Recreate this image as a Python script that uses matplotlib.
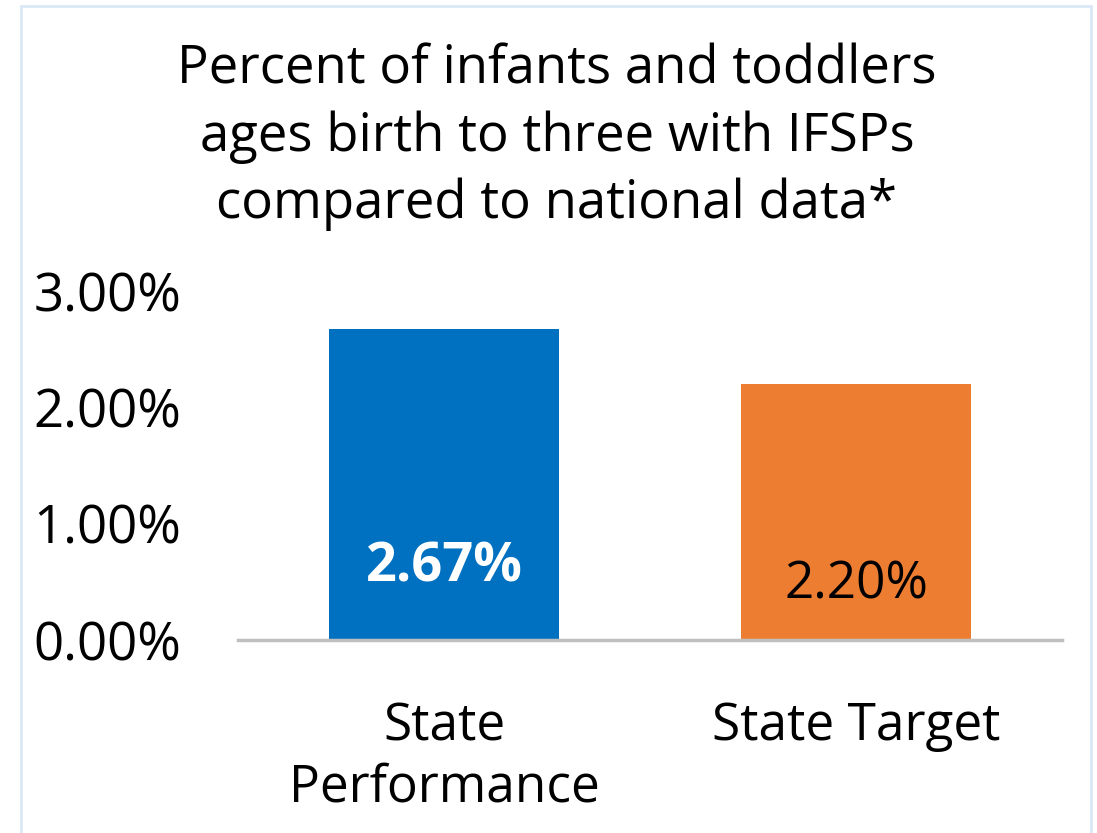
import matplotlib
matplotlib.use("Agg")
import matplotlib.pyplot as plt
from matplotlib.patches import Rectangle

categories = ["State\nPerformance", "State Target"]
values = [2.67, 2.20]
value_labels = ["2.67%", "2.20%"]
colors = ["#0070C0", "#ED7D31"]
yticks = [0, 1, 2, 3]
ytick_labels = ["0.00%", "1.00%", "2.00%", "3.00%"]
title = "Percent of infants and toddlers\nages birth to three with IFSPs\ncompared to national data*"

plt.rcParams['font.family'] = ['Open Sans', 'DejaVu Sans']

fig = plt.figure(figsize=(10.97, 8.33), dpi=100)
W, H = 1097, 833
ax = fig.add_axes([238 / W, 1 - 640 / H, (1062 - 238) / W, (640 - 291) / H])

x = range(len(categories))
ax.bar(x, values, width=0.556, color=colors, zorder=2)
ax.set_xlim(-0.5, 1.5)
ax.set_ylim(0, 3)
ax.set_yticks(yticks)
ax.set_yticklabels(ytick_labels, fontsize=38)
ax.set_xticks(list(x))
ax.set_xticklabels(categories, fontsize=37, linespacing=1.26)
ax.tick_params(axis='both', length=0)
ax.tick_params(axis='y', pad=41)
ax.tick_params(axis='x', pad=44)
for s in ["top", "right", "left"]:
    ax.spines[s].set_visible(False)
ax.spines["bottom"].set_color("#BFBFBF")
ax.spines["bottom"].set_linewidth(2.5)

label_y = [0.50, 0.36]
label_style = [dict(color="white", fontweight="bold", fontsize=39),
               dict(color="black", fontsize=37)]
for i, (v, lab) in enumerate(zip(values, value_labels)):
    ax.text(i, label_y[i], lab, ha="center", va="baseline", **label_style[i])

fig.text(557 / W, 1 - 137 / H, title, ha="center", va="center", fontsize=38,
         linespacing=1.33)

fig.patches.append(Rectangle((21 / W, -0.05), (1091 - 21) / W, 1 - 6 / H + 0.05,
                             transform=fig.transFigure, fill=False,
                             edgecolor="#DAE8F5", linewidth=2))

fig.savefig("out.png", dpi=100)
